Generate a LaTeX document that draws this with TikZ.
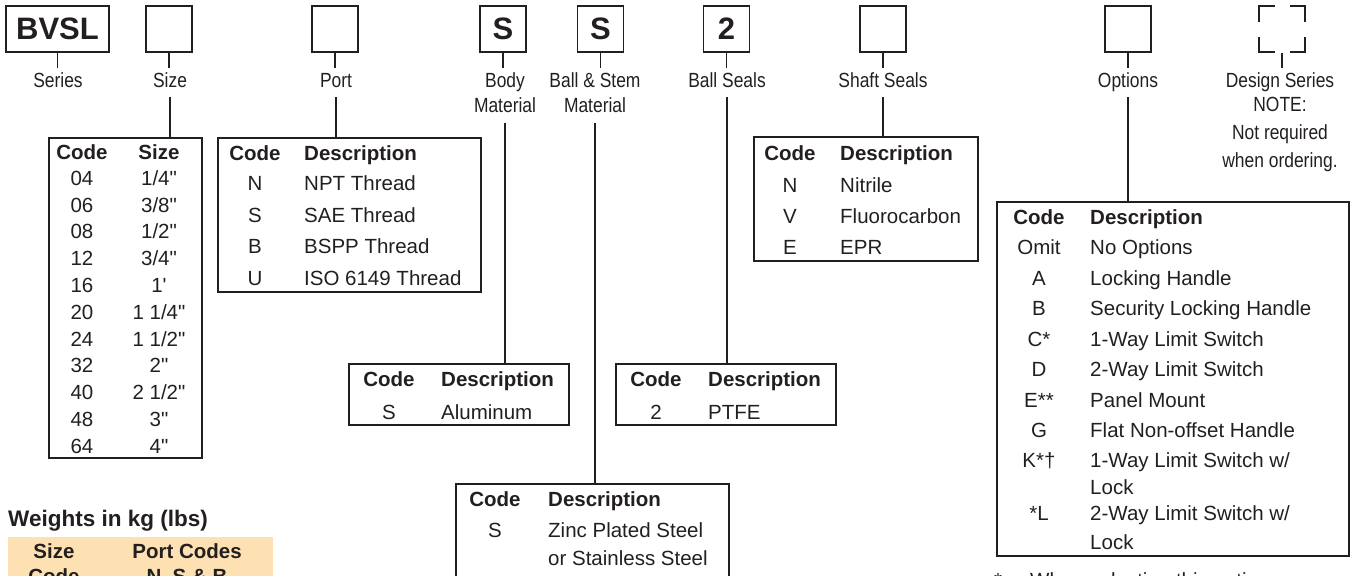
\documentclass[tikz,border=0pt]{standalone}
\usepackage{fontspec}
\setmainfont{Liberation Sans}
\newfontfamily\narrowfont[FakeStretch=0.85]{Liberation Sans}
\usepackage{tikz}
\usetikzlibrary{positioning}

\begin{document}
\begin{tikzpicture}[
    x=1pt, y=-1pt,
    every node/.style={text=inkTone},
    codeBox/.style={
      rectangle, draw=inkTone, line width=1.8pt,
      minimum width=46pt, minimum height=46pt, inner sep=0pt,
      font=\fontsize{31}{31}\selectfont\bfseries
    },
    fieldLabel/.style={
      anchor=north, font=\narrowfont\fontsize{20.5}{25}\selectfont,
      inner xsep=0pt, inner ysep=5pt, text height=14.7pt, text depth=4.5pt
    },
    fieldLabelTwo/.style={
      anchor=north, align=center, font=\narrowfont\fontsize{20.5}{25}\selectfont,
      inner xsep=0pt, inner ysep=5pt
    },
    note/.style={anchor=north, align=center, font=\narrowfont\fontsize{20.5}{28}\selectfont, inner sep=0pt},
    codeTable/.style={rectangle, draw=inkTone, line width=1.6pt, inner sep=0pt},
    head/.style={font=\fontsize{20.5}{24}\selectfont\bfseries, inner sep=0pt, text height=14.7pt, text depth=0pt},
    cell/.style={font=\fontsize{20.5}{24}\selectfont, inner sep=0pt, text height=14.7pt, text depth=0pt},
    link/.style={draw=inkTone, line width=1.4pt}
  ]
    \definecolor{inkTone}{RGB}{35,31,32}
    \definecolor{peachFill}{RGB}{253,225,178}
    \useasboundingbox (0,0) rectangle (1353,576);

    \node[codeBox, minimum width=103pt] (series) at (57.5,29) {BVSL};
    \node[codeBox] (size) at (169,29) {};
    \node[codeBox] (port) at (335,29) {};
    \node[codeBox] (body) at (503,29) {S};
    \node[codeBox] (ball) at (600.5,29) {S};
    \node[codeBox] (seal) at (726.5,29) {2};
    \node[codeBox] (shaft) at (883,29) {};
    \node[codeBox] (option) at (1128,29) {};
    \node[codeBox, line width=2.4pt, minimum width=45.6pt, minimum height=45.6pt,
      line cap=rect, dash pattern=on 28.2pt off 17.4pt, dash phase=14.1pt] (design) at (1282,29) {};

    \node[fieldLabel] (seriesL) at (58,67.5) {Series};
    \node[fieldLabel] (sizeL) at (170,67.5) {Size};
    \node[fieldLabel] (portL) at (336,67.5) {Port};
    \node[fieldLabelTwo] (bodyL) at (505,67.5) {Body\\Material};
    \node[fieldLabelTwo] (ballL) at (595,67.5) {Ball \& Stem\\Material};
    \node[fieldLabel] (sealL) at (727,67.5) {Ball Seals};
    \node[fieldLabel] (shaftL) at (883,67.5) {Shaft Seals};
    \node[fieldLabel] (optionL) at (1128,67.5) {Options};
    \node[fieldLabel] (designL) at (1280,67.5) {Design Series};
    \node[note] (designN) at (1280,96.6) {NOTE:\\Not required\\when ordering.};

    \node[codeTable, minimum width=153.4pt, minimum height=320.4pt] (sizeT) at (125.5,298) {};
    \node[codeTable, minimum width=263.4pt, minimum height=154.4pt] (portT) at (349.5,215) {};
    \node[codeTable, minimum width=220.4pt, minimum height=61.4pt] (bodyT) at (459,394.5) {};
    \node[codeTable, minimum width=273.4pt, minimum height=155.4pt] (ballT) at (592.5,561.5) {};
    \node[codeTable, minimum width=220.4pt, minimum height=61.4pt] (sealT) at (726,394.5) {};
    \node[codeTable, minimum width=224.4pt, minimum height=124.4pt] (shaftT) at (866,199) {};
    \node[codeTable, minimum width=352.4pt, minimum height=354.4pt] (optionT) at (1173,379) {};

    \foreach \n in {series,size,port,body,ball,seal,shaft,option,design}
      \draw[link] (\n.south) -- (\n.south |- \n L.north);
    \foreach \n/\s in {size/0,port/0,body/5.5,ball/5.5,seal/0,shaft/0,option/0}
      \draw[link] ([yshift=-\s pt]\n L.south) -- (\n L.south |- \n T.north);

    \node[head] (sizeH1) at (82,152) {Code};
    \node[head] (sizeH2) at (159,152) {Size};
    \foreach \c/\s [count=\i from 0] in {04/{1/4\textquotedbl}, 06/{3/8\textquotedbl}, 08/{1/2\textquotedbl},
        12/{3/4\textquotedbl}, 16/{1\textquotesingle}, 20/{1 1/4\textquotedbl}, 24/{1 1/2\textquotedbl},
        32/{2\textquotedbl}, 40/{2 1/2\textquotedbl}, 48/{3\textquotedbl}, 64/{4\textquotedbl}} {
      \node[cell] (sizeC\i) at (82,178+26.8*\i) {\c};
      \node[cell] (sizeS\i) at (159,178+26.8*\i) {\s};
    }

    \node[head] (portH1) at (255,153) {Code};
    \node[head, anchor=west] (portH2) at (304,153) {Description};
    \foreach \c/\d [count=\i from 0] in {N/NPT Thread, S/SAE Thread, B/BSPP Thread, U/ISO 6149 Thread} {
      \node[cell] (portC\i) at (255,183+31.7*\i) {\c};
      \node[cell, anchor=west] (portD\i) at (304,183+31.7*\i) {\d};
    }

    \node[head] (bodyH1) at (389,379) {Code};
    \node[head, anchor=west] (bodyH2) at (441,379) {Description};
    \node[cell] (bodyC0) at (389,412) {S};
    \node[cell, anchor=west] (bodyD0) at (441,412) {Aluminum};

    \node[head] (sealH1) at (656,379) {Code};
    \node[head, anchor=west] (sealH2) at (708,379) {Description};
    \node[cell] (sealC0) at (656,412) {2};
    \node[cell, anchor=west] (sealD0) at (708,412) {PTFE};

    \node[head] (ballH1) at (495,499) {Code};
    \node[head, anchor=west] (ballH2) at (548,499) {Description};
    \node[cell] (ballC0) at (495,530) {S};
    \node[cell, anchor=west] (ballD0) at (548,530) {Zinc Plated Steel};
    \node[cell, anchor=west] (ballD1) at (548,558) {or Stainless Steel};

    \node[head] (shaftH1) at (790,153) {Code};
    \node[head, anchor=west] (shaftH2) at (840,153) {Description};
    \foreach \c/\d [count=\i from 0] in {N/Nitrile, V/Fluorocarbon, E/EPR} {
      \node[cell] (shaftC\i) at (790,185+31*\i) {\c};
      \node[cell, anchor=west] (shaftD\i) at (840,185+31*\i) {\d};
    }

    \node[head] (optionH1) at (1039,217) {Code};
    \node[head, anchor=west] (optionH2) at (1090,217) {Description};
    \foreach \y/\c/\d [count=\i] in {247/Omit/No Options, 278/A/Locking Handle, 308/B/Security Locking Handle,
        339/C*/1-Way Limit Switch, 369/D/2-Way Limit Switch, 400/E**/Panel Mount, 430/G/Flat Non-offset Handle,
        460/K*†/{1-Way Limit Switch w/}, 513/*L/{2-Way Limit Switch w/}} {
      \node[cell] (optionC\i) at (1039,\y) {\c};
      \node[cell, anchor=west] (optionD\i) at (1090,\y) {\d};
    }
    \node[cell, anchor=west] (optionK) at (1090,487) {Lock};
    \node[cell, anchor=west] (optionL) at (1090,542) {Lock};

    \node[font=\fontsize{22.5}{26}\selectfont\bfseries, anchor=west, inner sep=0pt,
      text height=16.1pt, text depth=0pt] (weightsH) at (8,518) {Weights in kg (lbs)};
    \node[rectangle, fill=peachFill, minimum width=265pt, minimum height=100pt, inner sep=0pt] (weightsT) at (140.5,587) {};
    \node[head] (weightsH1) at (54,551) {Size};
    \node[head] (weightsH2) at (187,551) {Port Codes};
    \node[head] (weightsH3) at (54,576) {Code};
    \node[head] (weightsH4) at (187,576) {N, S \& B};

    \node[cell] (starMark) at (998,580) {*};
    \node[cell, anchor=west] (starNote) at (1030,580) {When selecting this option, ensure};
  \end{tikzpicture}
\end{document}
